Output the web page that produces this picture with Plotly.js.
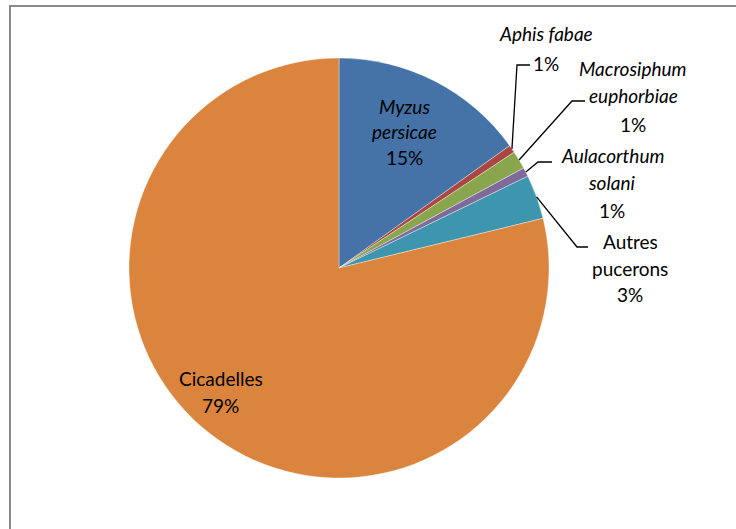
<!DOCTYPE html>
<html>
<head>
<meta charset="utf-8">
<script src="https://cdn.plot.ly/plotly-3.0.1.min.js"></script>
<style>
  html, body { margin: 0; padding: 0; background: #fff; }
  #wrap { position: relative; width: 736px; height: 529px; overflow: hidden; }
  #chart { width: 736px; height: 529px; }
  #frame { position: absolute; left: 9px; top: 5px; width: 740px; height: 540px;
           border-top: 2px solid #8a8a8a; border-left: 2px solid #8a8a8a; pointer-events: none; }
</style>
</head>
<body>
<div id="wrap"><div id="chart"></div><div id="frame"></div></div>
<script>
// ---- data ----
const labels = ['Myzus persicae', 'Aphis fabae', 'Macrosiphum euphorbiae', 'Aulacorthum solani', 'Autres pucerons', 'Cicadelles'];
const labelLines = [['Myzus', 'persicae'], ['Aphis fabae'], ['Macrosiphum', 'euphorbiae'], ['Aulacorthum', 'solani'], ['Autres', 'pucerons'], ['Cicadelles']];
const values = [15.1, 0.6, 1.4, 0.7, 3.4, 78.8];
const italicName = [true, true, true, true, false, false];

// ---- style / layout ----
const colors = ['#4572A7', '#AA4643', '#89A54E', '#80699B', '#3D96AE', '#DB843D'];
const W = 736, H = 529, CX = 339, CY = 268, R = 210;
// label placement (pixel): centre x, first line centre y, line spacing
const labelPos = [
  {x: 404, y: 106, dy: 26},
  {x: 546, y: 33, dy: 30},
  {x: 633, y: 68, dy: 28},
  {x: 612, y: 156, dy: 27},
  {x: 630, y: 242, dy: 26},
  {x: 221, y: 378, dy: 27}
];
// leader lines: elbow and end points (pixel), null = no leader
const leaders = [
  null,
  {elbow: [517, 65], end: [530, 65]},
  {elbow: [572, 101], end: [585, 101]},
  {elbow: [538, 162], end: [552, 162]},
  {elbow: [577, 247], end: [588, 247]},
  null
];

const px = x => x / W;
const py = y => 1 - y / H;

const total = values.reduce((a, b) => a + b, 0);
const annotations = [];
const shapes = [];
const font = {family: 'Lato, "Open Sans", sans-serif', size: 19, color: '#000'};
let cum = 0;
values.forEach((v, i) => {
  const mid = (cum + v / 2) / total * 2 * Math.PI;
  cum += v;
  const lines = labelLines[i].map(t => italicName[i] ? '<i>' + t + '</i>' : t);
  lines.push(Math.round(v / total * 100) + '%');
  const p = labelPos[i];
  lines.forEach((t, k) => {
    annotations.push({
      xref: 'paper', yref: 'paper', x: px(p.x), y: py(p.y + k * p.dy),
      xanchor: 'center', yanchor: 'middle', showarrow: false, text: t, font: font
    });
  });
  const L = leaders[i];
  if (L) {
    const sx = CX + R * Math.sin(mid), sy = CY - R * Math.cos(mid);
    shapes.push({
      type: 'path', xref: 'paper', yref: 'paper',
      path: 'M' + px(sx) + ',' + py(sy) + ' L' + px(L.elbow[0]) + ',' + py(L.elbow[1]) + ' L' + px(L.end[0]) + ',' + py(L.end[1]),
      line: {color: '#000', width: 1.3}
    });
  }
});

const trace = {
  type: 'pie',
  labels: labels,
  values: values,
  sort: false,
  direction: 'clockwise',
  rotation: 0,
  textinfo: 'none',
  hoverinfo: 'label+percent',
  marker: {colors: colors, line: {color: 'rgba(255,255,255,0.6)', width: 0.6}},
  domain: {x: [px(CX - R), px(CX + R)], y: [py(CY + R), py(CY - R)]}
};

Plotly.newPlot('chart', [trace], {
  width: W, height: H,
  margin: {l: 0, r: 0, t: 0, b: 0},
  showlegend: false,
  paper_bgcolor: '#fff',
  annotations: annotations,
  shapes: shapes
}, {displayModeBar: false, staticPlot: true});
</script>
</body>
</html>
